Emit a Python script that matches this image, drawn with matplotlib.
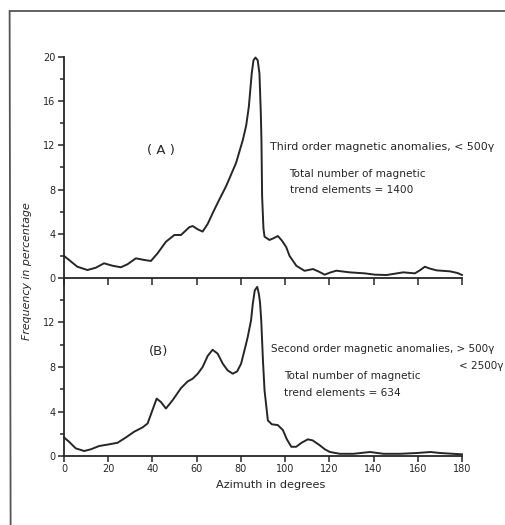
#!/usr/bin/env python3
"""
Azimuth frequency curves of magnetic trend elements, panels (A) and (B).
"""
import matplotlib
matplotlib.use("Agg")
import matplotlib.pyplot as plt
from matplotlib.lines import Line2D
from matplotlib.ticker import MultipleLocator


# =============================================================================
# (A) third order anomalies
azimuth_a = [0, 2.3, 6.0, 10.6, 14.4, 18.1, 21.9, 25.7, 28.7, 32.5, 36.3, 39.3,
             42.3, 46.1, 49.9, 52.9, 56.7, 58.2, 60.5, 62.7, 65.0, 67.2, 70.0,
             73.3, 77.8, 80.9, 82.4, 83.6, 84.9, 85.7, 86.6, 87.6, 88.4, 89.0,
             89.3, 89.6, 90.2, 90.7, 92.9, 94.8, 96.7, 98.5, 100.5, 102.0,
             105.1, 108.8, 112.6, 115.0, 117.9, 120.5, 123.2, 129.2, 136.0,
             140.6, 145.9, 150.0, 153.4, 158.7, 161.0, 163.2, 165.5, 168.5,
             174.6, 178.0, 180.0]
freq_a = [2.0, 1.63, 1.02, 0.72, 0.93, 1.33, 1.11, 0.97, 1.24, 1.78, 1.63, 1.54,
          2.23, 3.28, 3.89, 3.89, 4.6, 4.7, 4.4, 4.2, 4.9, 5.85, 7.0,
          8.3, 10.4, 12.5, 13.8, 15.5, 18.5, 19.7, 19.95, 19.7, 18.5, 15.0,
          12.5, 7.4, 4.5, 3.74, 3.44, 3.6, 3.8, 3.4, 2.8, 2.0,
          1.1, 0.65, 0.81, 0.6, 0.3, 0.5, 0.66, 0.51, 0.42,
          0.3, 0.27, 0.4, 0.51, 0.42, 0.7, 1.02, 0.85, 0.69,
          0.6, 0.45, 0.27]

# (B) second order anomalies
azimuth_b = [0, 2.3, 5.3, 9.1, 12.1, 15.9, 20.4, 24.2, 28.0, 31.7, 35.5, 37.8,
             40.0, 41.9, 43.8, 46.1, 49.1, 52.9, 55.9, 58.2, 60.5, 62.7, 65.0,
             67.2, 69.5, 71.8, 74.0, 76.3, 78.3, 80.1, 82.0, 83.1, 84.6, 85.4,
             86.3, 87.4, 88.2, 88.7, 89.2, 90.0, 90.7, 92.2, 94.0, 96.7, 99.0,
             100.8, 102.8, 105.0, 107.5, 110.3, 112.5, 115.7, 118.0, 120.3,
             124.8, 130.9, 138.4, 144.5, 152.0, 159.6, 165.7, 170.2, 180.0]
freq_b = [1.67, 1.28, 0.69, 0.45, 0.6, 0.9, 1.05, 1.19, 1.67, 2.18, 2.57, 2.92,
          4.12, 5.16, 4.86, 4.27, 5.01, 6.1, 6.7, 6.95, 7.4, 8.0, 9.0,
          9.55, 9.2, 8.3, 7.7, 7.4, 7.6, 8.3, 9.8, 10.7, 12.2, 13.7,
          14.9, 15.2, 14.5, 13.7, 12.2, 8.5, 5.9, 3.2, 2.85, 2.78, 2.33,
          1.5, 0.83, 0.83, 1.2, 1.5, 1.4, 0.96, 0.6, 0.36,
          0.2, 0.2, 0.36, 0.2, 0.2, 0.27, 0.36, 0.27, 0.15]

x_ticks = list(range(0, 181, 20))

INK = "#262626"
FS = 7


# =============================================================================
def style_axis(ax, ymax, labels):
    ax.set_xlim(0, 180)
    ax.set_ylim(0, ymax)
    ax.spines[["right", "top"]].set_visible(False)
    for s in ("left", "bottom"):
        ax.spines[s].set_color(INK)
        ax.spines[s].set_linewidth(1.3)
    ax.set_xticks(x_ticks)
    ax.yaxis.set_major_locator(MultipleLocator(4))
    ax.yaxis.set_minor_locator(MultipleLocator(2))
    ax.tick_params(axis="both", which="both", direction="out", length=4,
                   width=1.1, color=INK, labelcolor=INK, labelsize=FS, pad=2)
    ax.tick_params(axis="y", which="minor", length=3)
    ax.set_yticks(labels)
    ax.set_facecolor("none")


fig = plt.figure(figsize=(5.06, 5.25), dpi=100)

ax_a = fig.add_axes([0.1265, 0.4705, 0.7865, 0.421])
ax_b = fig.add_axes([0.1265, 0.1314, 0.7865, 0.3391])

ax_a.plot(azimuth_a, freq_a, color=INK, lw=1.4, solid_joinstyle="round",
          clip_on=False)
ax_b.plot(azimuth_b, freq_b, color=INK, lw=1.4, solid_joinstyle="round",
          clip_on=False)

style_axis(ax_a, 20, [0, 4, 8, 12, 16, 20])
style_axis(ax_b, 16, [0, 4, 8, 12])
ax_b.set_yticks([2, 6, 10, 14], minor=True)
ax_a.tick_params(axis="x", labelbottom=False, length=5)
ax_b.set_xticklabels([str(t) for t in x_ticks])

# panel texts
ax_a.text(37.6, 11.5, "( A )", fontsize=9.5, color=INK, va="center")
ax_a.text(93.0, 11.85, "Third order magnetic anomalies, < 500\u03b3",
          fontsize=7.9, color=INK, va="center", clip_on=False)
ax_a.text(102.0, 9.4, "Total number of magnetic", fontsize=7.6,
          color=INK, va="center")
ax_a.text(102.0, 8.0, "trend elements = 1400", fontsize=7.6,
          color=INK, va="center")

ax_b.text(38.5, 9.4, "(B)", fontsize=9.5, color=INK, va="center")
ax_b.text(93.5, 9.6, "Second order magnetic anomalies, > 500\u03b3",
          fontsize=7.5, color=INK, va="center", clip_on=False)
fig.text(0.996, 1 - 366 / 525, "< 2500\u03b3", fontsize=7.5, color=INK,
         va="center", ha="right")
ax_b.text(99.7, 7.2, "Total number of magnetic", fontsize=7.6,
          color=INK, va="center")
ax_b.text(99.7, 5.7, "trend elements = 634", fontsize=7.6,
          color=INK, va="center")

fig.text(0.053, 0.484, "Frequency in percentage", rotation=90, fontsize=7.9,
         style="italic", color=INK, ha="center", va="center")
fig.text(0.534, 0.076, "Azimuth in degrees", fontsize=8.1, color=INK,
         ha="center", va="center")

# page edge of the scanned figure
fig.add_artist(Line2D([0.019, 1.0], [1 - 11 / 525, 1 - 11 / 525],
                      transform=fig.transFigure, color="#555555", lw=1.3))
fig.add_artist(Line2D([0.019, 0.021], [1 - 11 / 525, 0.0],
                      transform=fig.transFigure, color="#555555", lw=1.3))

fig.savefig("out.png", dpi=100, facecolor="white")
